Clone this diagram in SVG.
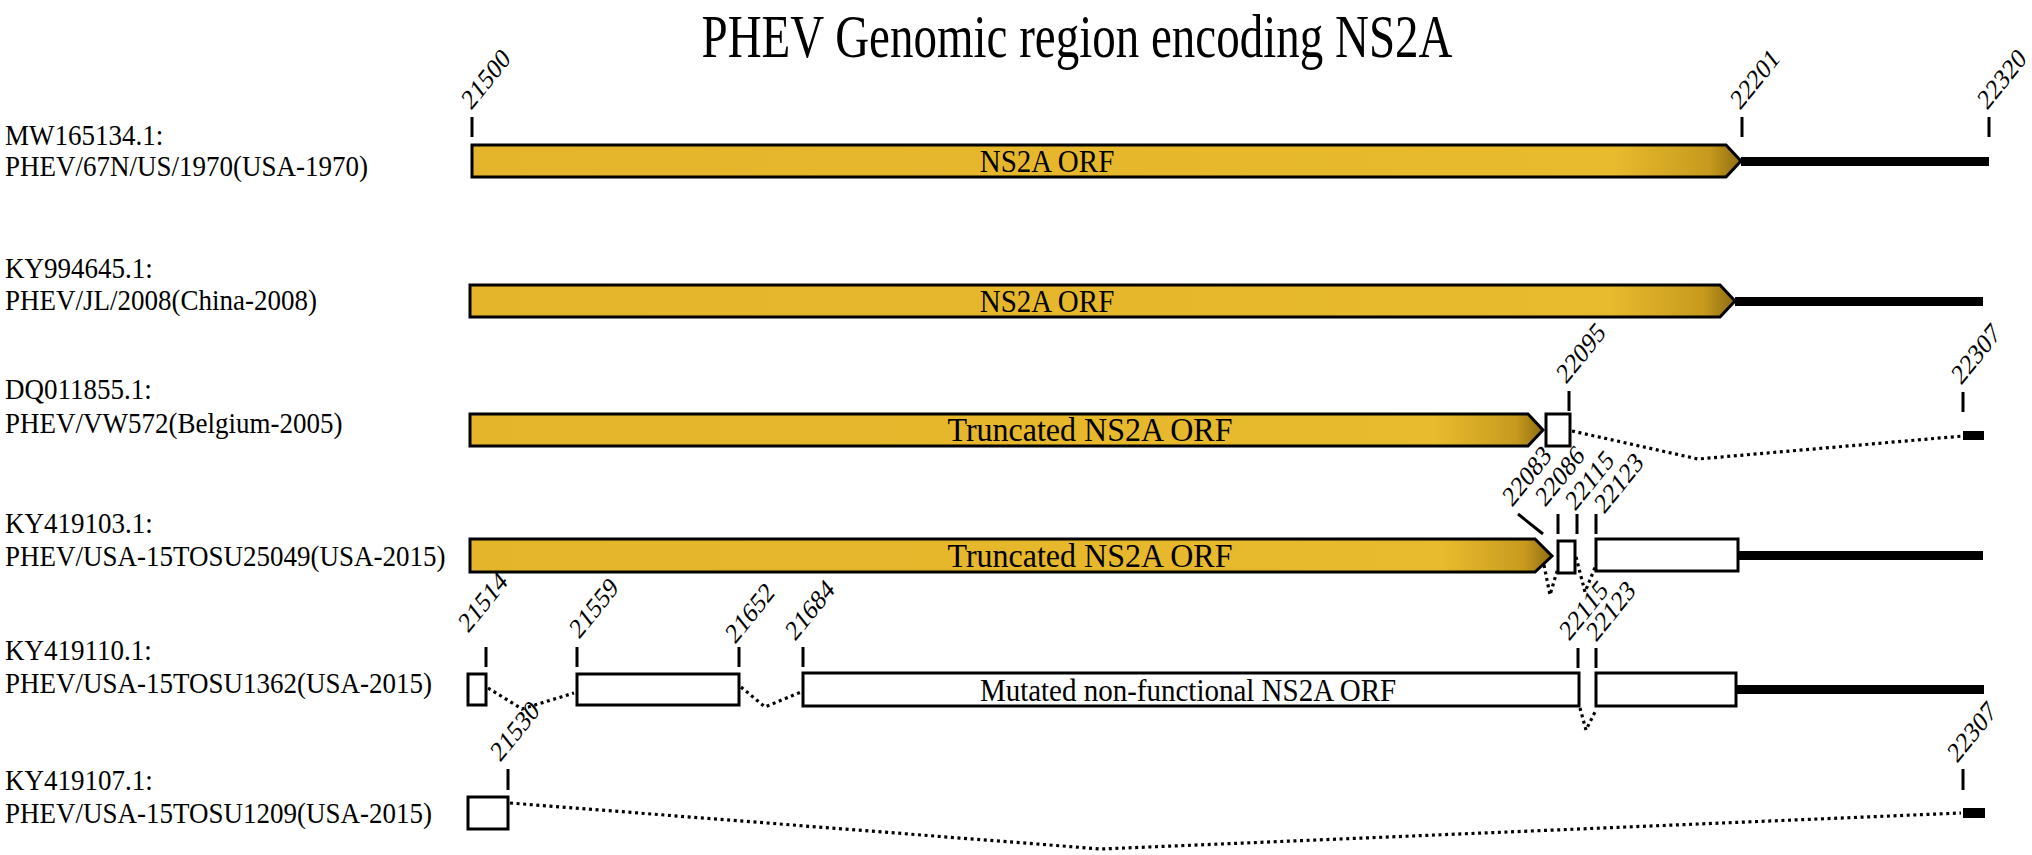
<svg xmlns="http://www.w3.org/2000/svg" width="2032" height="855" viewBox="0 0 2032 855">
<style>
text{font-family:"Liberation Serif","Times New Roman",serif;fill:#000}
.title{font-size:47px;text-anchor:middle}
.lab{font-size:27px}
.pos{font-size:23px}
.orf{font-size:29px;text-anchor:middle}
.orf2{font-size:32px;text-anchor:middle}
.bar{stroke:#000;stroke-width:3;stroke-linejoin:miter}
.box{fill:#fff;stroke:#000;stroke-width:3}
.tick{stroke:#000;stroke-width:3;fill:none}
.dot{stroke:#000;stroke-width:3.2;stroke-dasharray:3 3.6;fill:none}
.utr{fill:#000}
</style>
<defs>
<linearGradient id="gold" x1="0" y1="0" x2="1" y2="0">
<stop offset="0" stop-color="#E4B42A"/>
<stop offset="0.9" stop-color="#E8BA2D"/>
<stop offset="0.975" stop-color="#C79A1E"/>
<stop offset="1" stop-color="#8E6C10"/>
</linearGradient>
</defs>
<text class="title" transform="translate(1077,57) scale(1,1.3)">PHEV Genomic region encoding NS2A</text>

<g id="row1">
<text class="lab" transform="translate(5,145) scale(1,1.1)">MW165134.1:</text>
<text class="lab" transform="translate(5,176) scale(1,1.1)">PHEV/67N/US/1970(USA-1970)</text>
<polygon class="bar" fill="url(#gold)" points="472,145 1726,145 1741,161 1726,177 472,177"/>
<rect class="utr" x="1741" y="157" width="248" height="9"/>
<text class="orf" transform="translate(1047,172) scale(1,1.1)">NS2A ORF</text>
<path class="tick" d="M472 117V137M1742 117V137M1989 117V137"/>
<text class="pos" transform="translate(471,111) scale(1,1.25) rotate(-45)">21500</text>
<text class="pos" transform="translate(1740,111) scale(1,1.25) rotate(-45)">22201</text>
<text class="pos" transform="translate(1987,111) scale(1,1.25) rotate(-45)">22320</text>
</g>

<g id="row2">
<text class="lab" transform="translate(5,278) scale(1,1.1)">KY994645.1:</text>
<text class="lab" transform="translate(5,310) scale(1,1.1)">PHEV/JL/2008(China-2008)</text>
<polygon class="bar" fill="url(#gold)" points="470,285 1720,285 1735,301 1720,317 470,317"/>
<rect class="utr" x="1735" y="297" width="248" height="9"/>
<text class="orf" transform="translate(1047,312) scale(1,1.1)">NS2A ORF</text>
</g>

<g id="row3">
<text class="lab" transform="translate(5,399) scale(1,1.1)">DQ011855.1:</text>
<text class="lab" transform="translate(5,433) scale(1,1.1)">PHEV/VW572(Belgium-2005)</text>
<polygon class="bar" fill="url(#gold)" points="470,414 1528,414 1543,430 1528,446 470,446"/>
<rect class="box" x="1546" y="414" width="24" height="32"/>
<rect class="utr" x="1963" y="431" width="21" height="9"/>
<text class="orf2" transform="translate(1090,441) scale(1,1.05)">Truncated NS2A ORF</text>
<path class="tick" d="M1569 391V411M1963 392V412"/>
<text class="pos" transform="translate(1566,385) scale(1,1.25) rotate(-45)">22095</text>
<text class="pos" transform="translate(1961,386) scale(1,1.25) rotate(-45)">22307</text>
</g>

<g id="row4">
<text class="lab" transform="translate(5,533) scale(1,1.1)">KY419103.1:</text>
<text class="lab" transform="translate(5,566) scale(1,1.1)">PHEV/USA-15TOSU25049(USA-2015)</text>
<polygon class="bar" fill="url(#gold)" points="470,539 1535,539 1552,556 1535,572 470,572"/>
<rect class="box" x="1558" y="541" width="17" height="32"/>
<rect class="box" x="1596" y="539" width="142" height="32"/>
<rect class="utr" x="1738" y="551" width="245" height="9"/>
<text class="orf2" transform="translate(1090,567) scale(1,1.05)">Truncated NS2A ORF</text>
<path class="tick" d="M1518 514L1543 534M1558 514V534M1577 514V534M1596 514V534"/>
<text class="pos" transform="translate(1512,508) scale(1,1.25) rotate(-45)">22083</text>
<text class="pos" transform="translate(1545,508) scale(1,1.25) rotate(-45)">22086</text>
<text class="pos" transform="translate(1575,512) scale(1,1.25) rotate(-45)">22115</text>
<text class="pos" transform="translate(1604,515) scale(1,1.25) rotate(-45)">22123</text>
</g>

<g id="row5">
<text class="lab" transform="translate(5,660) scale(1,1.1)">KY419110.1:</text>
<text class="lab" transform="translate(5,693) scale(1,1.1)">PHEV/USA-15TOSU1362(USA-2015)</text>
<rect class="box" x="468" y="674" width="18" height="31"/>
<rect class="box" x="577" y="674" width="162" height="31"/>
<rect class="box" x="803" y="673" width="776" height="33"/>
<rect class="box" x="1596" y="673" width="140" height="33"/>
<rect class="utr" x="1736" y="685" width="248" height="9"/>
<text class="orf" transform="translate(1188,701) scale(1,1.1)">Mutated non-functional NS2A ORF</text>
<path class="tick" d="M486 647V667M577 647V667M739 647V667M803 647V667M1578 648V668M1596 648V668"/>
<text class="pos" transform="translate(468,634) scale(1,1.25) rotate(-45)">21514</text>
<text class="pos" transform="translate(579,640) scale(1,1.25) rotate(-45)">21559</text>
<text class="pos" transform="translate(735,645) scale(1,1.25) rotate(-45)">21652</text>
<text class="pos" transform="translate(795,642) scale(1,1.25) rotate(-45)">21684</text>
<text class="pos" transform="translate(1569,642) scale(1,1.25) rotate(-45)">22115</text>
<text class="pos" transform="translate(1596,643) scale(1,1.25) rotate(-45)">22123</text>
</g>

<g id="row6">
<text class="lab" transform="translate(5,790) scale(1,1.1)">KY419107.1:</text>
<text class="lab" transform="translate(5,823) scale(1,1.1)">PHEV/USA-15TOSU1209(USA-2015)</text>
<rect class="box" x="468" y="797" width="40" height="32"/>
<rect class="utr" x="1963" y="808" width="22" height="10"/>
<path class="tick" d="M508 769V790M1963 769V790"/>
<text class="pos" transform="translate(500,763) scale(1,1.25) rotate(-45)">21530</text>
<text class="pos" transform="translate(1957,764) scale(1,1.25) rotate(-45)">22307</text>
</g>

<g id="connectors">
<polyline class="dot" points="1572,431 1698,459 1963,436"/>
<polyline class="dot" points="1544,565 1550,595 1558,568"/>
<polyline class="dot" points="1576,557 1585,592 1596,565"/>
<polyline class="dot" points="488,688 522,709 574,693"/>
<polyline class="dot" points="741,687 765,707 801,692"/>
<polyline class="dot" points="1580,708 1586,730 1595,712"/>
<polyline class="dot" points="510,803 1101,849 1961,813"/>
</g>
</svg>
